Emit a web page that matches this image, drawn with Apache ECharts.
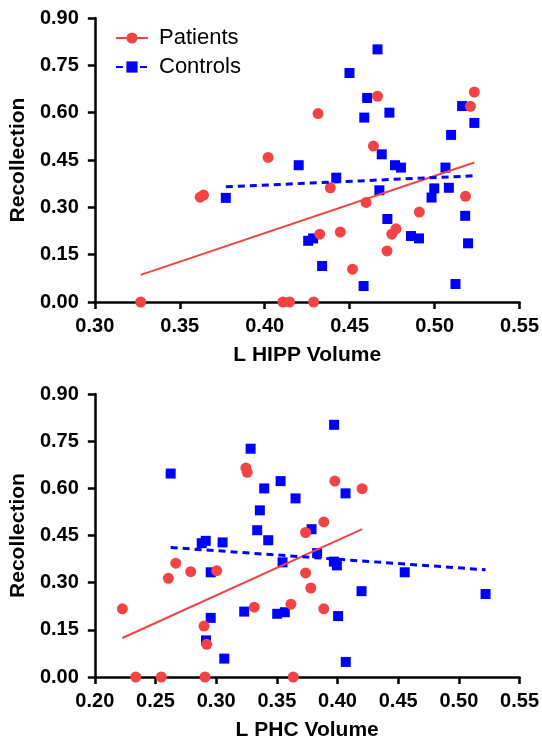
<!DOCTYPE html>
<html>
<head>
<meta charset="utf-8">
<script src="https://cdn.jsdelivr.net/npm/echarts@6/dist/echarts.min.js"></script>
<style>
html,body{margin:0;padding:0;background:#fff;}
#chart{width:542px;height:742px;}
</style>
</head>
<body>
<div id="chart"></div>
<script>
// ---- Data ----
const yTicks = [0, 0.15, 0.30, 0.45, 0.60, 0.75, 0.90];
const hippTicks = [0.30, 0.35, 0.40, 0.45, 0.50, 0.55];
const phcTicks = [0.20, 0.25, 0.30, 0.35, 0.40, 0.45, 0.50, 0.55];

const hippPatients = [
  [0.327,0.000],[0.362,0.332],[0.364,0.339],[0.4020,0.458],[0.4107,0.000],
  [0.4146,0.000],[0.4288,0.000],[0.4314,0.597],[0.4324,0.215],[0.4386,0.362],
  [0.4445,0.2215],[0.4517,0.104],[0.4597,0.3155],[0.464,0.494],[0.4664,0.652],
  [0.472,0.162],[0.4748,0.215],[0.4773,0.232],[0.491,0.285],[0.5182,0.335],
  [0.5211,0.620],[0.5234,0.6655]
];
const hippControls = [
  [0.3771,0.330],[0.4664,0.8006],[0.4499,0.7257],[0.4603,0.6466],[0.4734,0.600],
  [0.4586,0.5844],[0.5162,0.621],[0.5234,0.5675],[0.5097,0.5295],[0.4689,0.468],
  [0.4200,0.4335],[0.4767,0.4335],[0.4802,0.426],[0.5064,0.426],[0.4421,0.394],
  [0.4675,0.354],[0.4998,0.360],[0.4982,0.331],[0.5084,0.362],[0.5180,0.273],
  [0.4722,0.263],[0.5197,0.186],[0.4256,0.194],[0.4285,0.2015],[0.4861,0.209],
  [0.4908,0.2015],[0.4338,0.114],[0.4582,0.0506],[0.5123,0.057]
];
const hippPatientsFit = [[0.327,0.086],[0.5234,0.442]];
const hippControlsFit = [[0.3771,0.365],[0.5234,0.400]];

const phcPatients = [
  [0.2227,0.2168],[0.2337,0.000],[0.2548,0.000],[0.2908,0.000],[0.2606,0.314],
  [0.2667,0.362],[0.2790,0.335],[0.3004,0.338],[0.2900,0.162],[0.2922,0.104],
  [0.3314,0.222],[0.3245,0.665],[0.3256,0.651],[0.3978,0.623],[0.4203,0.599],
  [0.3887,0.493],[0.3737,0.4595],[0.3616,0.2316],[0.3737,0.331],[0.3780,0.283],
  [0.3887,0.2168],[0.3635,0.000]
];
const phcControls = [
  [0.2625,0.647],[0.3284,0.726],[0.3396,0.5997],[0.3360,0.530],[0.3338,0.4668],
  [0.3429,0.435],[0.2881,0.4256],[0.2914,0.433],[0.3053,0.428],[0.3972,0.802],
  [0.3531,0.623],[0.3654,0.568],[0.4066,0.584],[0.3786,0.470],[0.3547,0.3646],
  [0.3832,0.394],[0.3970,0.367],[0.3995,0.355],[0.2955,0.333],[0.4198,0.273],
  [0.3231,0.208],[0.3503,0.201],[0.3566,0.206],[0.4005,0.1937],[0.2955,0.188],
  [0.2916,0.1165],[0.3067,0.0585],[0.4068,0.048],[0.4554,0.333],[0.5220,0.264]
];
const phcPatientsFit = [[0.2227,0.124],[0.4203,0.470]];
const phcControlsFit = [[0.2625,0.412],[0.5220,0.341]];

const seriesNames = ['Patients', 'Controls'];
const xTitles = ['L HIPP Volume', 'L PHC Volume'];
const yTitle = 'Recollection';

// ---- Style ----
const RED = '#f24444';
const BLUE = '#0000ff';
const FONT = '"Liberation Sans", Arial, Helvetica, sans-serif';

function xAxis(gridIndex, ticks, title) {
  return {
    type: 'value', gridIndex,
    min: ticks[0], max: ticks[ticks.length - 1], interval: 0.05,
    name: title, nameLocation: 'middle', nameGap: 43,
    nameTextStyle: { fontFamily: FONT, fontWeight: 'bold', fontSize: 21, color: '#000' },
    axisLine: { show: true, onZero: false, lineStyle: { color: '#000', width: 2.5 } },
    axisTick: { show: true, length: 7, lineStyle: { color: '#000', width: 2.5 } },
    axisLabel: { margin: 14, fontFamily: FONT, fontWeight: 'bold', fontSize: 20, color: '#000',
      formatter: v => v.toFixed(2) },
    splitLine: { show: false }
  };
}
function yAxis(gridIndex) {
  return {
    type: 'value', gridIndex,
    min: yTicks[0], max: yTicks[yTicks.length - 1], interval: 0.15,
    name: yTitle, nameLocation: 'middle', nameGap: 63, nameRotate: 90,
    nameTextStyle: { fontFamily: FONT, fontWeight: 'bold', fontSize: 21, color: '#000' },
    axisLine: { show: true, onZero: false, lineStyle: { color: '#000', width: 2.5 } },
    axisTick: { show: true, length: 7, lineStyle: { color: '#000', width: 2.5 } },
    axisLabel: { margin: 16, fontFamily: FONT, fontWeight: 'bold', fontSize: 20, color: '#000',
      formatter: v => v.toFixed(2) },
    splitLine: { show: false }
  };
}
function scatter(name, idx, data, isPatient) {
  return {
    type: 'scatter', name, xAxisIndex: idx, yAxisIndex: idx, data,
    symbol: isPatient ? 'circle' : 'rect',
    symbolSize: isPatient ? 11 : 10,
    itemStyle: { color: isPatient ? RED : BLUE, opacity: 1 },
    emphasis: { disabled: true }, silent: true, z: isPatient ? 3 : 2
  };
}
function fitLine(name, idx, data, isPatient) {
  return {
    type: 'line', name, xAxisIndex: idx, yAxisIndex: idx, data,
    symbol: isPatient ? 'circle' : 'rect',
    symbolSize: isPatient ? 11 : 10,
    showSymbol: false,
    itemStyle: { color: isPatient ? RED : BLUE },
    lineStyle: isPatient ? { color: RED, width: 2 } : { color: BLUE, width: 3, type: [7, 5] },
    emphasis: { disabled: true }, silent: true, z: 4, animation: false
  };
}

const option = {
  animation: false,
  backgroundColor: '#fff',
  grid: [
    { left: 94, right: 22, top: 18, bottom: 440 },
    { left: 94, right: 22, top: 394, bottom: 63.5 }
  ],
  legend: {
    data: seriesNames,
    orient: 'vertical', left: 110, top: 22,
    itemWidth: 32, itemHeight: 14, itemGap: 7,
    textStyle: { fontFamily: FONT, fontSize: 22, color: '#000', padding: [0, 0, 0, 6] },
    selectedMode: false
  },
  xAxis: [xAxis(0, hippTicks, xTitles[0]), xAxis(1, phcTicks, xTitles[1])],
  yAxis: [yAxis(0), yAxis(1)],
  series: [
    fitLine(seriesNames[0], 0, hippPatientsFit, true),
    fitLine(seriesNames[1], 0, hippControlsFit, false),
    scatter('HIPP Controls', 0, hippControls, false),
    scatter('HIPP Patients', 0, hippPatients, true),
    scatter('PHC Controls', 1, phcControls, false),
    scatter('PHC Patients', 1, phcPatients, true),
    fitLine('PHC Patients fit', 1, phcPatientsFit, true),
    fitLine('PHC Controls fit', 1, phcControlsFit, false)
  ]
};

const chart = echarts.init(document.getElementById('chart'), null, { renderer: 'canvas' });
chart.setOption(option);
</script>
</body>
</html>
